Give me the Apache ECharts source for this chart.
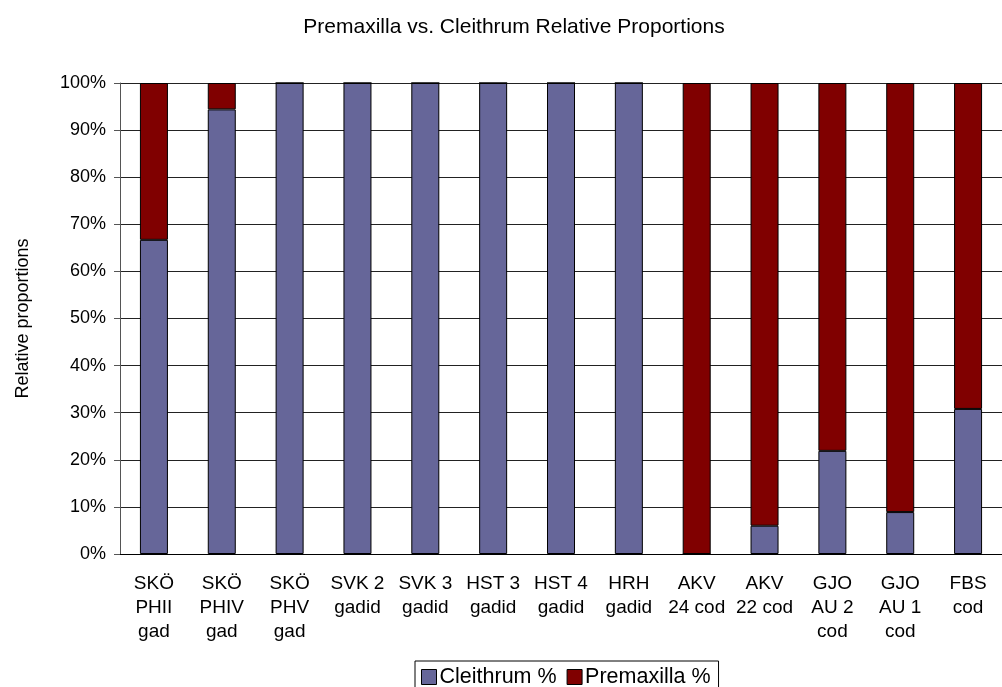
<!DOCTYPE html>
<html lang="en">
<head>
    <meta charset="UTF-8">
    <title>Premaxilla vs. Cleithrum</title>
    <script src="https://cdn.jsdelivr.net/npm/echarts@6/dist/echarts.min.js"></script>
</head>
<body style="margin:0;background:#fff;">
<div id="main" style="width: 1002px;height:687px;"></div>
<script type="text/javascript">
    // sample sites
    var categories = ['SKÖ\nPHII\ngad', 'SKÖ\nPHIV\ngad', 'SKÖ\nPHV\ngad', 'SVK 2\ngadid', 'SVK 3\ngadid',
        'HST 3\ngadid', 'HST 4\ngadid', 'HRH\ngadid', 'AKV\n24 cod', 'AKV\n22 cod',
        'GJO\nAU 2\ncod', 'GJO\nAU 1\ncod', 'FBS\ncod'];
    var cleithrum = [66.7, 94.4, 100, 100, 100, 100, 100, 100, 0, 6.0, 21.9, 8.9, 30.8];
    var premaxilla = [33.3, 5.6, 0, 0, 0, 0, 0, 0, 100, 94.0, 78.1, 91.1, 69.2];
    var yTicks = [0, 10, 20, 30, 40, 50, 60, 70, 80, 90, 100];

    var font = "'Liberation Sans', Arial, sans-serif";
    var dom = document.getElementById("main");
    var myChart = echarts.init(dom);
    var option = {
        backgroundColor: '#fff',
        animation: false,
        title: {
            text: 'Premaxilla vs. Cleithrum Relative Proportions',
            left: 509,
            textAlign: 'center',
            top: 12,
            textStyle: {fontFamily: font, fontSize: 21, fontWeight: 'normal', color: '#000'}
        },
        legend: {
            left: 415,
            top: 661,
            padding: [5, 8, 5, 6],
            itemGap: 10,
            itemWidth: 15,
            itemHeight: 15,
            borderColor: '#000',
            borderWidth: 1,
            icon: 'rect',
            itemStyle: {borderColor: '#000', borderWidth: 1},
            textStyle: {fontFamily: font, fontSize: 21.5, color: '#000', padding: [0, 0, 0, -2]},
            data: ['Cleithrum %', 'Premaxilla %']
        },
        grid: {left: 120, top: 83, right: -10, bottom: 133},
        xAxis: {
            type: 'category',
            data: categories,
            axisLine: {lineStyle: {color: '#000', width: 1}},
            axisTick: {length: 6, lineStyle: {color: '#555'}},
            axisLabel: {
                interval: 0, margin: 18, fontFamily: font, fontSize: 19, lineHeight: 24, color: '#000'
            }
        },
        yAxis: {
            type: 'value',
            min: yTicks[0],
            max: yTicks[yTicks.length - 1],
            interval: 10,
            name: 'Relative proportions',
            nameLocation: 'middle',
            nameGap: 88,
            nameTextStyle: {fontFamily: font, fontSize: 18, color: '#000'},
            axisLine: {show: true, lineStyle: {color: '#555'}},
            axisTick: {show: true, length: 6, lineStyle: {color: '#555'}},
            axisLabel: {margin: 14, fontFamily: font, fontSize: 18, color: '#000', formatter: '{value}%'},
            splitLine: {lineStyle: {color: '#222', width: 1}}
        },
        series: [
            {
                name: 'Cleithrum %',
                type: 'bar',
                stack: 'total',
                barWidth: 28,
                itemStyle: {color: '#666699', borderColor: '#000', borderWidth: 1},
                data: cleithrum
            },
            {
                name: 'Premaxilla %',
                type: 'bar',
                stack: 'total',
                barWidth: 28,
                itemStyle: {color: '#800000', borderColor: '#000', borderWidth: 1},
                data: premaxilla
            }
        ]
    };
    myChart.setOption(option, true);
</script>
</body>
</html>
